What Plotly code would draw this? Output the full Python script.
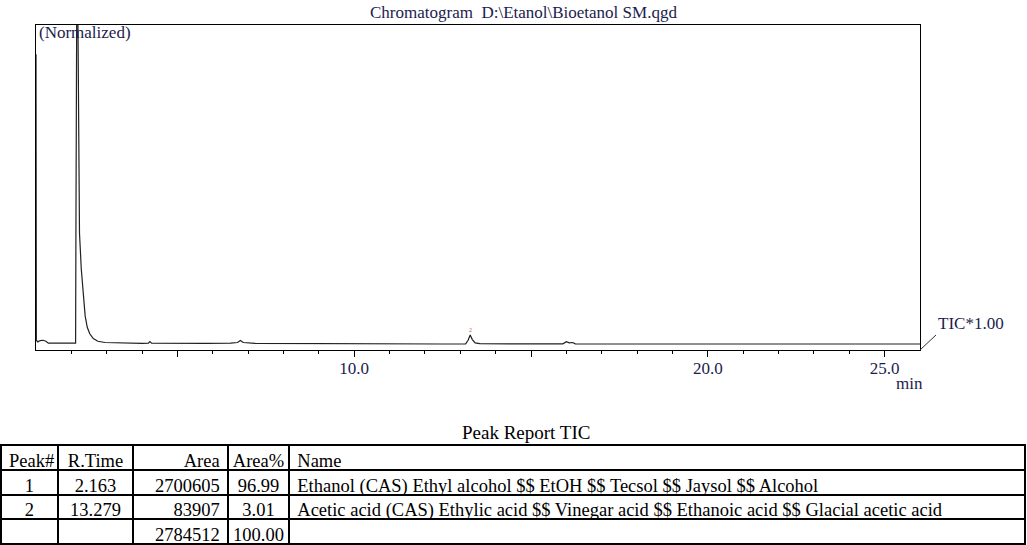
import plotly.graph_objects as go

# ---- chromatogram data ----
time_min = [1.00, 1.01, 1.05, 1.12, 1.20, 1.28, 1.35, 1.60, 2.00, 2.12,
            2.13, 2.15, 2.163, 2.18, 2.20, 2.23, 2.28, 2.33, 2.39, 2.45,
            2.52, 2.62, 2.75, 2.95, 3.20, 3.60, 4.00, 4.18, 4.22, 4.27,
            5.00, 5.80, 6.50, 6.70, 6.78, 6.86, 7.20, 8.50, 10.0, 11.5,
            12.5, 13.15, 13.22, 13.279, 13.34, 13.42, 13.55, 14.5, 15.9, 16.0,
            16.08, 16.18, 16.25, 18.0, 20.0, 22.0, 24.0, 26.0]
intensity = [91.0, 3.0, 2.5, 2.9, 3.0, 2.7, 2.1, 2.05, 2.05, 2.1,
             40.0, 130.0, 140.0, 110.0, 60.0, 36.0, 25.0, 17.0, 10.5, 7.0,
             5.0, 3.5, 2.7, 2.3, 2.2, 2.1, 2.05, 2.1, 2.6, 2.1,
             2.0, 2.05, 2.1, 2.3, 2.9, 2.3, 2.05, 1.95, 1.9, 1.85,
             1.85, 1.9, 3.0, 4.6, 3.2, 2.2, 1.95, 1.9, 1.9, 2.55,
             2.2, 2.3, 1.9, 1.85, 1.85, 1.85, 1.85, 1.85]

major_ticks = [5, 10, 15, 20, 25]
major_labels = ["", "10.0", "", "20.0", "25.0"]
minor_ticks = [2, 3, 4, 6, 7, 8, 9, 11, 12, 13, 14, 16, 17, 18, 19, 21, 22, 23, 24]

# ---- peak report table ----
col_headers = ["Peak#", "R.Time", "Area", "Area%", "Name"]
peak_no = ["1", "2", ""]
r_time = ["2.163", "13.279", ""]
area = ["2700605", "83907", "2784512"]
area_pct = ["96.99", "3.01", "100.00"]
names = ["Ethanol (CAS) Ethyl alcohol $$ EtOH $$ Tecsol $$ Jaysol $$ Alcohol",
         "Acetic acid (CAS) Ethylic acid $$ Vinegar acid $$ Ethanoic acid $$ Glacial acetic acid",
         ""]

W, H = 1027, 545
NAVY = "#1c1c4e"
SERIF = "Liberation Serif, Times New Roman, serif"

def px(x):
    return x / W

def py(y):
    return (H - y) / H

fig = go.Figure()

fig.add_trace(go.Scatter(
    x=time_min, y=intensity, mode="lines",
    line=dict(color="#202020", width=1.2),
    hoverinfo="skip", showlegend=False,
))

fig.add_trace(go.Table(
    domain=dict(x=[px(1), px(1025)], y=[0, py(445)]),
    columnwidth=[56.7, 75.6, 94.4, 61.6, 735.7],
    header=dict(values=col_headers,
                align=["left", "center", "right", "center", "left"],
                font=dict(family=SERIF, size=18.5, color="black"),
                fill_color="white", line=dict(color="black", width=2),
                height=25),
    cells=dict(values=[peak_no, r_time, area, area_pct, names],
               align=["center", "center", "right", "center", "left"],
               font=dict(family=SERIF, size=18.5, color="black"),
               fill_color="white", line=dict(color="black", width=2),
               height=24.5),
))

fig.update_layout(
    width=W, height=H,
    margin=dict(l=0, r=0, t=0, b=0),
    paper_bgcolor="white", plot_bgcolor="white",
    showlegend=False,
    xaxis=dict(domain=[px(36), px(920)], range=[1.0, 26.0],
               showgrid=False, zeroline=False,
               showline=True, linecolor="black", linewidth=1.3, mirror=True,
               tickmode="array", tickvals=major_ticks, ticktext=major_labels,
               ticks="outside", ticklen=6, tickwidth=1.3, tickcolor="black",
               tickfont=dict(family=SERIF, size=17, color=NAVY),
               ticklabelstandoff=-4,
               minor=dict(tickmode="array", tickvals=minor_ticks,
                          ticks="outside", ticklen=3, tickwidth=1, tickcolor="black"),
               fixedrange=True),
    yaxis=dict(domain=[py(350), py(25)], range=[0, 100],
               showgrid=False, zeroline=False, showticklabels=False, ticks="",
               showline=True, linecolor="black", linewidth=1.3, mirror=True,
               fixedrange=True),
)

annos = [
    dict(text="Chromatogram  D:\\Etanol\\Bioetanol SM.qgd", x=px(523), y=py(12),
         font=dict(size=17)),
    dict(text="(Normalized)", x=px(37), y=py(33), xanchor="left", font=dict(size=17)),
    dict(text="min", x=px(909), y=py(383), font=dict(size=17)),
    dict(text="Peak Report TIC", x=px(526), y=py(432), font=dict(size=19, color="black")),
]
for a in annos:
    fig.add_annotation(xref="paper", yref="paper", showarrow=False,
                       yanchor=a.pop("yanchor", "middle"), xanchor=a.pop("xanchor", "center"),
                       **{k: v for k, v in a.items() if k != "font"},
                       font=dict(family=SERIF, color=a["font"].get("color", NAVY), size=a["font"]["size"]))

# TIC label with leader line from the axis corner
fig.add_annotation(x=26.0, y=0, xref="x", yref="y", text="TIC*1.00",
                   showarrow=True, arrowhead=0, arrowwidth=1, arrowcolor="#333",
                   ax=16, ay=-15, xanchor="left", yanchor="bottom",
                   font=dict(family=SERIF, size=17, color=NAVY))

# small peak label
fig.add_annotation(x=13.279, y=4.6, xref="x", yref="y", text="2", showarrow=False,
                   yanchor="bottom", font=dict(family=SERIF, size=6, color="#c06030"))

fig.write_html("out.html", config={"displayModeBar": False},
               post_script="document.body.style.margin='0';")
